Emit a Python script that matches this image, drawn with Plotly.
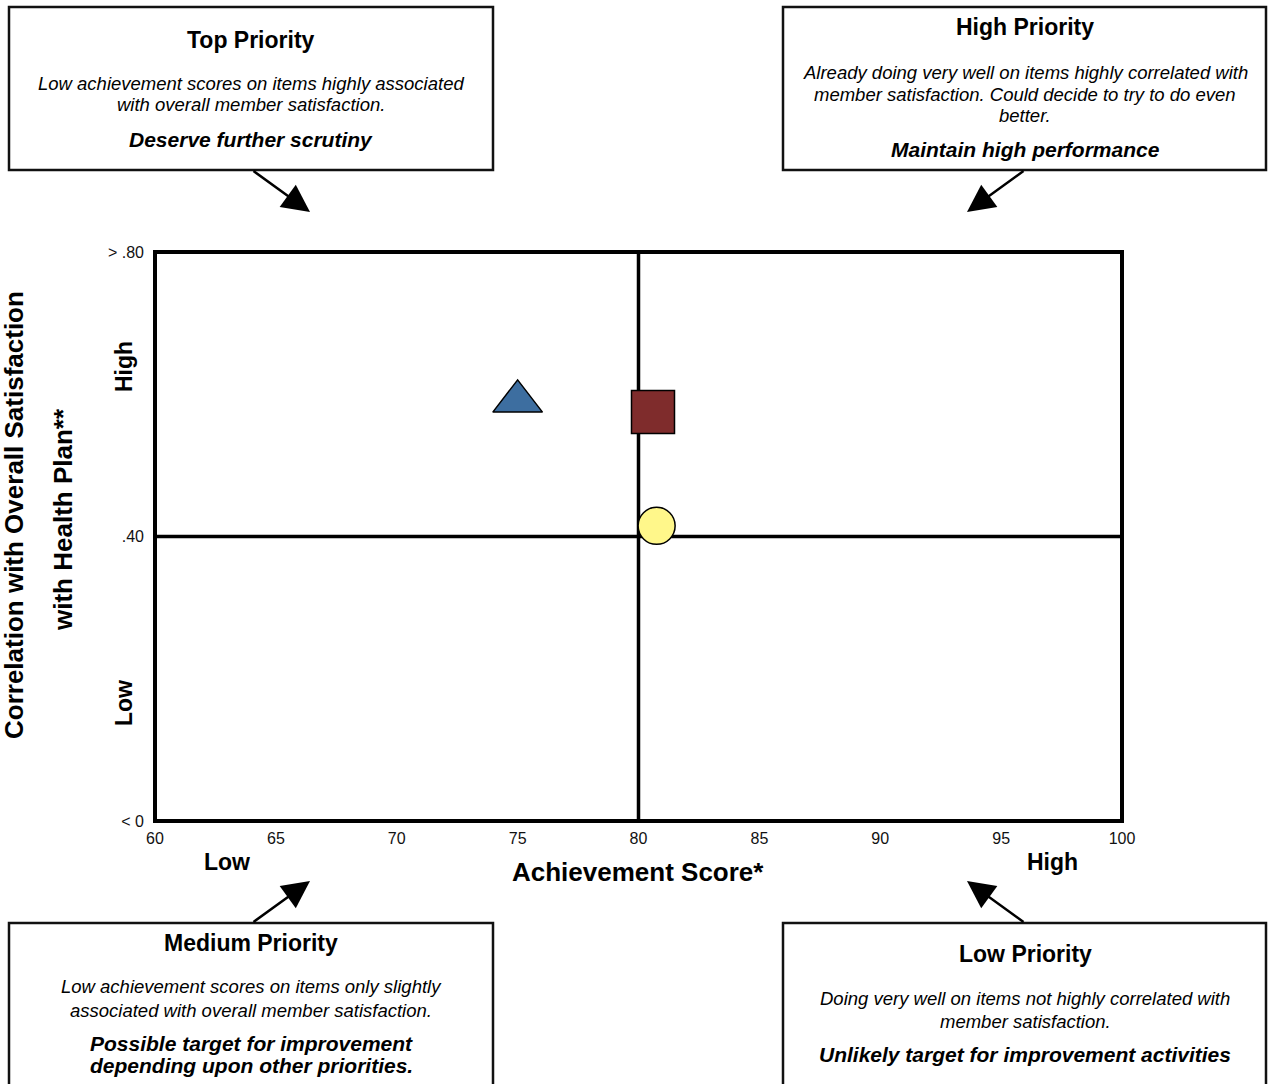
import plotly.graph_objects as go

# ---------------- data ----------------
item_names = ["Item A", "Item B", "Item C"]
achievement_scores = [75.0, 80.6, 80.75]
correlations = [0.59, 0.575, 0.415]

x_tick_values = [60, 65, 70, 75, 80, 85, 90, 95, 100]
y_tick_values = [0, 0.4, 0.8]
y_tick_labels = ["< 0", ".40", "> .80"]
x_divider = [80]
y_divider = [0.4]

# ---------------- styles ----------------
symbols = ["triangle-up", "square", "circle"]
colors = ["#3D6EA0", "#7F2C2C", "#FFF78A"]
sizes = [43, 43, 37]

FONT = "Liberation Sans, Arial, sans-serif"
W, H = 1274, 1084
L, R = 155, 1122
T, B = 252, 821
PW, PH = R - L, B - T


def px(xp):
    return (xp - L) / PW


def py(yp):
    return (B - yp) / PH


fig = go.Figure()
for i in range(len(item_names)):
    fig.add_trace(go.Scatter(
        x=[achievement_scores[i]], y=[correlations[i]], mode="markers",
        name=item_names[i],
        marker=dict(symbol=symbols[i], color=colors[i], size=sizes[i],
                    line=dict(color="black", width=1.5)),
        showlegend=False, cliponaxis=False,
    ))

shapes = []
# quadrant dividers
shapes.append(dict(type="line", xref="x", yref="paper", x0=x_divider[0], x1=x_divider[0],
                   y0=0, y1=1, line=dict(color="black", width=3.5), layer="below"))
shapes.append(dict(type="line", xref="paper", yref="y", x0=0, x1=1,
                   y0=y_divider[0], y1=y_divider[0], line=dict(color="black", width=3.5), layer="below"))
# plot border
shapes.append(dict(type="rect", xref="paper", yref="paper", x0=0, x1=1, y0=0, y1=1,
                   line=dict(color="black", width=4)))

# callout boxes (pixel layout)
boxes = [(9, 493, 7, 170), (783, 1266, 7, 170), (9, 493, 923, 1110), (783, 1266, 923, 1110)]
for (x0, x1, y0, y1) in boxes:
    shapes.append(dict(type="rect", xref="paper", yref="paper",
                       x0=px(x0), x1=px(x1), y0=py(y1), y1=py(y0),
                       line=dict(color="#111111", width=2.5), fillcolor="white"))

annotations = []


def txt(text, xp, yp, size, weight="normal", style="normal", angle=0):
    annotations.append(dict(
        text=text, xref="paper", yref="paper", x=px(xp), y=py(yp),
        xanchor="center", yanchor="middle", showarrow=False, textangle=angle,
        font=dict(family=FONT, size=size, color="black", weight=weight, style=style)))


TITLE, ITAL, BITAL = 23, 18.5, 21

# Top-left
txt("Top Priority", 251, 40, TITLE, "bold")
txt("Low achievement scores on items highly associated", 251, 83, ITAL, style="italic")
txt("with overall member satisfaction.", 251, 104, ITAL, style="italic")
txt("Deserve further scrutiny", 251, 139, BITAL, "bold", "italic")
# Top-right
txt("High Priority", 1025, 27, TITLE, "bold")
txt("Already doing very well on items highly correlated with", 1025, 72, ITAL, style="italic")
txt("member satisfaction. Could decide to try to do even", 1025, 94, ITAL, style="italic")
txt("better.", 1025, 116, ITAL, style="italic")
txt("Maintain high performance", 1025, 150, BITAL, "bold", "italic")
# Bottom-left
txt("Medium Priority", 251, 943, TITLE, "bold")
txt("Low achievement scores on items only slightly", 251, 987, ITAL, style="italic")
txt("associated with overall member satisfaction.", 251, 1010, ITAL, style="italic")
txt("Possible target for improvement", 251, 1043, BITAL, "bold", "italic")
txt("depending upon other priorities.", 251, 1065, BITAL, "bold", "italic")
# Bottom-right
txt("Low Priority", 1025, 954, TITLE, "bold")
txt("Doing very well on items not highly correlated with", 1025, 998, ITAL, style="italic")
txt("member satisfaction.", 1025, 1021, ITAL, style="italic")
txt("Unlikely target for improvement activities", 1025, 1054, BITAL, "bold", "italic")

# axis labels
txt("Low", 227, 862, 23, "bold")
txt("High", 1052, 862, 23, "bold")
txt("Achievement Score*", 638, 872, 26, "bold")
txt("High", 124, 367, 23, "bold", angle=-90)
txt("Low", 124, 703, 23, "bold", angle=-90)
txt("Correlation with Overall Satisfaction", 14, 515, 26, "bold", angle=-90)
txt("with Health Plan**", 63, 520, 26, "bold", angle=-90)

# arrows (tail -> tip), pixel layout
arrows = [((252, 170), (310, 212)), ((1025, 170), (967, 212)),
          ((252, 923), (310, 881)), ((1025, 923), (967, 881))]
for (tx, ty), (hx, hy) in arrows:
    annotations.append(dict(
        text="", xref="paper", yref="paper", x=px(hx), y=py(hy),
        ax=tx - hx, ay=ty - hy, axref="pixel", ayref="pixel",
        showarrow=True, arrowhead=2, arrowsize=2.2, arrowwidth=2.5, arrowcolor="black",
        standoff=0, startstandoff=0))

fig.update_layout(
    width=W, height=H,
    margin=dict(l=L, r=W - R, t=T, b=H - B, pad=0),
    paper_bgcolor="white", plot_bgcolor="white",
    shapes=shapes, annotations=annotations,
    font=dict(family=FONT, color="black"),
    xaxis=dict(range=[60, 100], tickvals=x_tick_values, showgrid=False, zeroline=False,
               showline=False, ticks="", ticklabelstandoff=6,
               tickfont=dict(size=16, family=FONT, color="#111111"), fixedrange=True),
    yaxis=dict(range=[0, 0.8], tickvals=y_tick_values, ticktext=y_tick_labels, showgrid=False,
               zeroline=False, showline=False, ticks="", ticklabelstandoff=10,
               tickfont=dict(size=16, family=FONT, color="#111111"), fixedrange=True),
)

fig.write_html("out.html", config={"displayModeBar": False},
               post_script="document.body.style.margin='0';document.body.style.overflow='hidden';")
